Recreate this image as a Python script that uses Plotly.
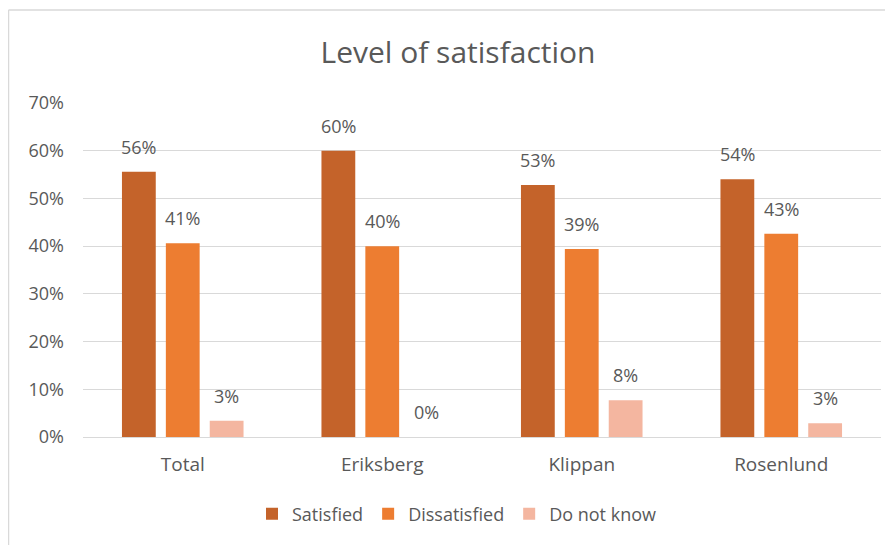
import plotly.graph_objects as go

categories = ["Total", "Eriksberg", "Klippan", "Rosenlund"]
series_names = ["Satisfied", "Dissatisfied", "Do not know"]
satisfied = [0.556, 0.60, 0.528, 0.540]
dissatisfied = [0.406, 0.40, 0.394, 0.426]
do_not_know = [0.034, 0.0, 0.077, 0.029]
y_ticks = [0, 0.1, 0.2, 0.3, 0.4, 0.5, 0.6, 0.7]

series_values = [satisfied, dissatisfied, do_not_know]
colors = ["#C4632A", "#ED7D31", "#F4B6A0"]
FONT = "Open Sans"
TXT = "#595959"

W, H = 893, 545
# page body has an 8px margin, so figure coordinates are shifted by 8px
ml, mr, mt, mb = 75, 20, 95, 116

fig = go.Figure()
for name, vals, col in zip(series_names, series_values, colors):
    fig.add_trace(go.Bar(
        name=name, x=categories, y=vals,
        marker=dict(color=col, line=dict(width=0)),
        hoverinfo="skip",
    ))

# data labels
offsets = [-44, 0, 44]
for vals, dx in zip(series_values, offsets):
    for c, v in zip(categories, vals):
        fig.add_annotation(
            x=c, y=v, xref="x", yref="y",
            text=f"{round(v*100)}%", showarrow=False,
            xshift=dx, yshift=25, yanchor="middle",
            font=dict(family=FONT, size=18, color=TXT),
        )

# chart frame (left and top edges)
pw = W - ml - mr
ph = H - mt - mb
x_left = (0.5 - ml) / pw
y_top = 1 + (mt - 2) / ph
fig.add_shape(type="line", xref="paper", yref="paper",
              x0=x_left, x1=x_left, y0=-0.5, y1=y_top,
              line=dict(color="#D9D9D9", width=1.5))
fig.add_shape(type="line", xref="paper", yref="paper",
              x0=x_left, x1=1.2, y0=y_top, y1=y_top,
              line=dict(color="#D9D9D9", width=1.5))

fig.update_layout(
    width=W, height=H, autosize=False,
    margin=dict(l=ml, r=mr, t=mt, b=mb),
    paper_bgcolor="white", plot_bgcolor="white",
    barmode="group", bargap=0.34, bargroupgap=0.23,
    title=dict(text="Level of satisfaction", x=(458 - 8) / W, xanchor="center",
               y=1 - 44 / H, yanchor="middle",
               font=dict(family=FONT, size=30, color=TXT)),
    font=dict(family=FONT, size=18, color=TXT),
    showlegend=True,
    legend=dict(orientation="h", x=(457 - 8) / W, xanchor="center", xref="container",
                y=1 - 506 / H, yref="container", yanchor="middle",
                font=dict(family=FONT, size=18, color=TXT),
                itemwidth=30, traceorder="normal"),
    xaxis=dict(showgrid=False, showline=False, zeroline=False,
               tickfont=dict(family=FONT, size=19, color=TXT),
               ticklabelstandoff=14, fixedrange=True),
    yaxis=dict(range=[0, 0.7], tickvals=y_ticks, tickformat=".0%",
               showgrid=True, gridcolor="#D9D9D9", gridwidth=1,
               zeroline=True, zerolinecolor="#D9D9D9", zerolinewidth=1,
               showline=False,
               tickfont=dict(family=FONT, size=18, color=TXT),
               ticklabelstandoff=18, fixedrange=True),
)

fig.write_html("out.html")
